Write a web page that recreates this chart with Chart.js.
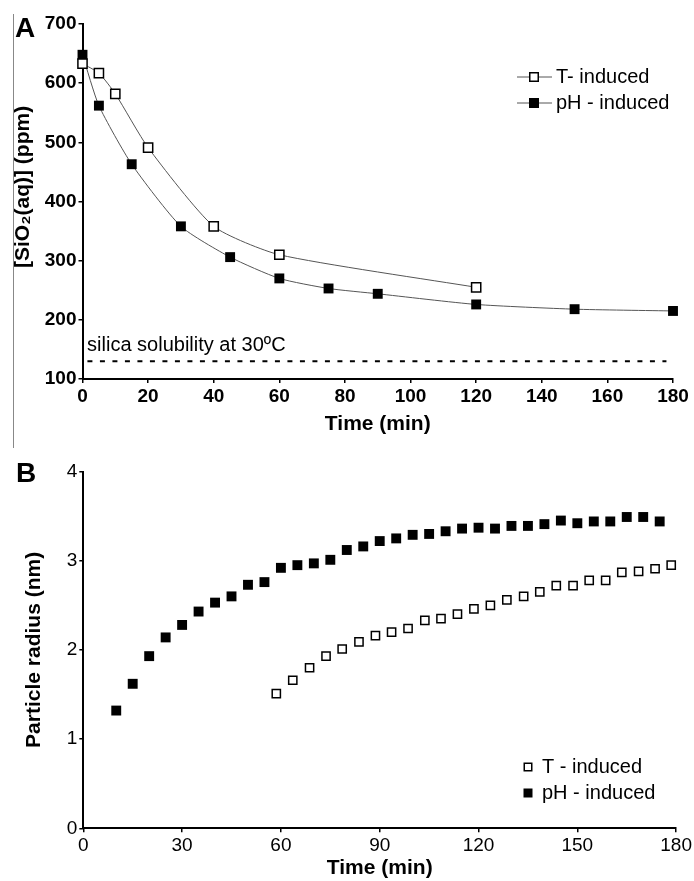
<!DOCTYPE html>
<html>
<head>
<meta charset="utf-8">
<script src="https://cdn.jsdelivr.net/npm/chart.js@4/dist/chart.umd.min.js"></script>
<style>
  body { margin: 0; background: #fff; width: 694px; height: 881px; position: relative; overflow: hidden; font-family: "Liberation Sans", Arial, sans-serif; }
  canvas { position: absolute; left: 0; }
  #chartA { top: 0; }
  #chartB { top: 440px; }
  #frame { position: absolute; left: 13px; top: 14px; height: 434px; border-left: 1.5px solid #888; }
  .panel { position: absolute; font-weight: bold; font-size: 28px; line-height: 1; color: #000; }
</style>
</head>
<body>
<div id="frame"></div>
<canvas id="chartA" width="694" height="440"></canvas>
<canvas id="chartB" width="694" height="441"></canvas>
<div class="panel" style="left:15px;top:14px">A</div>
<div class="panel" style="left:16px;top:459px">B</div>
<script>
// panel A: dissolved silica vs time
const timeA_T = [0, 5, 10, 20, 40, 60, 120];
const sio2_T = [633, 617, 582, 491, 358, 310, 255];
const timeA_pH = [0, 5, 15, 30, 45, 60, 75, 90, 120, 150, 180];
const sio2_pH = [648, 562, 463, 358, 306, 270, 253, 244, 226, 218, 215];
const solubilityTime = [1.5, 178];
const solubilityLevel = [130, 130];
const xTicksA = [0, 20, 40, 60, 80, 100, 120, 140, 160, 180];
const yTicksA = [100, 200, 300, 400, 500, 600, 700];

// panel B: particle radius vs time
const timeB_T = [58.6, 63.6, 68.7, 73.7, 78.6, 83.7, 88.7, 93.6, 98.6, 103.7, 108.6, 113.6, 118.6,
  123.6, 128.6, 133.7, 138.6, 143.6, 148.7, 153.6, 158.6, 163.5, 168.6, 173.6, 178.5];
const radius_T = [1.51, 1.66, 1.80, 1.93, 2.01, 2.09, 2.16, 2.20, 2.24, 2.33, 2.35, 2.40, 2.46,
  2.50, 2.56, 2.60, 2.65, 2.72, 2.72, 2.78, 2.78, 2.87, 2.88, 2.91, 2.95];
const timeB_pH = [10, 15, 20, 25, 30, 35, 40, 45, 50, 55, 60, 65, 70, 75, 80, 85, 90, 95, 100,
  105, 110, 115, 120, 125, 130, 135, 140, 145, 150, 155, 160, 165, 170, 175];
const radius_pH = [1.32, 1.62, 1.93, 2.14, 2.28, 2.43, 2.53, 2.60, 2.73, 2.76, 2.92, 2.95, 2.97,
  3.01, 3.12, 3.16, 3.22, 3.25, 3.29, 3.30, 3.33, 3.36, 3.37, 3.36, 3.39, 3.39, 3.41, 3.45, 3.42,
  3.44, 3.44, 3.49, 3.49, 3.44];
const xTicksB = [0, 30, 60, 90, 120, 150, 180];
const yTicksB = [0, 1, 2, 3, 4];

const FONT = '"Liberation Sans", Arial, sans-serif';
const pts = (xs, ys) => xs.map((x, i) => ({ x: x, y: ys[i] }));

// legend drawn inside the plot, with or without the line stub
const boxLegend = {
  id: 'boxLegend',
  afterDraw(chart, args, opts) {
    const ctx = chart.ctx;
    let y = opts.y;
    ctx.save();
    chart.data.datasets.forEach(ds => {
      if (!ds.label) return;
      const mx = opts.x;
      if (opts.stub) {
        ctx.strokeStyle = '#555';
        ctx.lineWidth = 1;
        ctx.beginPath();
        ctx.moveTo(mx - 17, y);
        ctx.lineTo(mx + 18, y);
        ctx.stroke();
      }
      const s = opts.size;
      ctx.fillStyle = ds.pointBackgroundColor;
      ctx.fillRect(mx - s / 2, y - s / 2, s, s);
      ctx.strokeStyle = '#000';
      ctx.lineWidth = 1.5;
      ctx.strokeRect(mx - s / 2, y - s / 2, s, s);
      ctx.fillStyle = '#000';
      ctx.font = opts.fontSize + 'px ' + FONT;
      ctx.textAlign = 'left';
      ctx.textBaseline = 'middle';
      ctx.fillText(ds.label, opts.textX, y);
      y += opts.gap;
    });
    ctx.restore();
  }
};

const noteText = {
  id: 'noteText',
  afterDatasetsDraw(chart, args, opts) {
    if (!opts.text) return;
    const ctx = chart.ctx;
    ctx.save();
    ctx.fillStyle = '#000';
    ctx.font = opts.fontSize + 'px ' + FONT;
    ctx.textAlign = 'left';
    ctx.textBaseline = 'middle';
    ctx.fillText(opts.text, chart.scales.x.getPixelForValue(opts.atX), chart.scales.y.getPixelForValue(opts.atY));
    ctx.restore();
  }
};

function axis(ticksArr, min, max, fit, tickFont, title) {
  return {
    type: 'linear', min: min, max: max,
    afterBuildTicks: s => { s.ticks = ticksArr.map(v => ({ value: v })); },
    afterFit: fit,
    border: { color: '#000', width: 2 },
    grid: { drawOnChartArea: false, drawTicks: true, tickLength: 4, color: '#000', lineWidth: 1.5 },
    ticks: { color: '#000', font: tickFont, padding: 2, maxRotation: 0, autoSkip: false },
    title: title
  };
}

new Chart(document.getElementById('chartA'), {
  type: 'line',
  data: {
    datasets: [
      {
        label: 'T- induced', data: pts(timeA_T, sio2_T), clip: false,
        borderColor: '#555', borderWidth: 1, tension: 0.2,
        pointStyle: 'rect', pointRadius: 6.5, pointBorderWidth: 1.5,
        pointBackgroundColor: '#fff', pointBorderColor: '#000'
      },
      {
        label: 'pH - induced', data: pts(timeA_pH, sio2_pH), clip: false,
        borderColor: '#555', borderWidth: 1, tension: 0.2,
        pointStyle: 'rect', pointRadius: 7, pointBorderWidth: 0,
        pointBackgroundColor: '#000', pointBorderColor: '#000'
      },
      {
        label: '', data: pts(solubilityTime, solubilityLevel),
        borderColor: '#000', borderWidth: 2, borderDash: [5, 7.5], pointRadius: 0
      }
    ]
  },
  options: {
    responsive: false, animation: false,
    layout: { padding: { left: 0, right: 21, top: 24, bottom: 0 } },
    plugins: {
      legend: { display: false }, tooltip: { enabled: false },
      boxLegend: { x: 534, y: 77, gap: 26, size: 8.5, stub: true, textX: 556, fontSize: 20 },
      noteText: { text: 'silica solubility at 30ºC', atX: 1.4, atY: 157, fontSize: 20 }
    },
    scales: {
      x: axis(xTicksA, 0, 180, s => { s.height = 61; }, { family: FONT, size: 19, weight: 'bold' },
        { display: true, text: 'Time (min)', color: '#000', font: { family: FONT, size: 21, weight: 'bold' }, padding: { top: 0, bottom: 3.4 } }),
      y: axis(yTicksA, 100, 700, s => { s.width = 82.5; }, { family: FONT, size: 19, weight: 'bold' },
        { display: true, text: '\u00A0\u00A0\u00A0\u00A0\u00A0[SiO₂(aq)] (ppm)', color: '#000', font: { family: FONT, size: 21, weight: 'bold' }, padding: { top: 10.4, bottom: 0 } })
    }
  },
  plugins: [boxLegend, noteText]
});

new Chart(document.getElementById('chartB'), {
  type: 'scatter',
  data: {
    datasets: [
      {
        label: 'T - induced', data: pts(timeB_T, radius_T), clip: false,
        pointStyle: 'rect', pointRadius: 5.8, pointBorderWidth: 1.5,
        pointBackgroundColor: '#fff', pointBorderColor: '#000', showLine: false
      },
      {
        label: 'pH - induced', data: pts(timeB_pH, radius_pH), clip: false,
        pointStyle: 'rect', pointRadius: 7, pointBorderWidth: 0,
        pointBackgroundColor: '#000', pointBorderColor: '#000', showLine: false
      }
    ]
  },
  options: {
    responsive: false, animation: false,
    layout: { padding: { left: 0, right: 17.3, top: 31.5, bottom: 0 } },
    plugins: {
      legend: { display: false }, tooltip: { enabled: false },
      boxLegend: { x: 528, y: 327, gap: 26, size: 7.5, stub: false, textX: 542, fontSize: 20 }
    },
    scales: {
      x: axis(xTicksB, 0, 180, s => { s.height = 52.7; }, { family: FONT, size: 19 },
        { display: true, text: 'Time (min)', color: '#000', font: { family: FONT, size: 21, weight: 'bold' }, padding: { top: 0, bottom: 0 } }),
      y: axis(yTicksB, 0, 4, s => { s.width = 83.3; }, { family: FONT, size: 19 },
        { display: true, text: 'Particle radius (nm)', color: '#000', font: { family: FONT, size: 21, weight: 'bold' }, padding: { top: 21.4, bottom: 0 } })
    }
  },
  plugins: [boxLegend]
});
</script>
</body>
</html>
